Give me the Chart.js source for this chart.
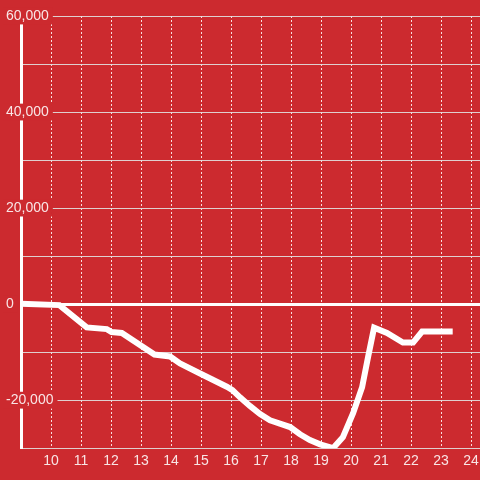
<!DOCTYPE html>
<html>
<head>
<meta charset="utf-8">
<script src="https://cdn.jsdelivr.net/npm/chart.js@4"></script>
<style>
  html, body { margin: 0; padding: 0; background: #cc2a2f; }
  #wrap { width: 480px; height: 480px; }
</style>
</head>
<body>
<div id="wrap"><canvas id="chart"></canvas></div>
<script>
// hour of day (x) and running total (y)
var hours = [9, 10.28, 11.19, 11.86, 12.02, 12.36, 13.45, 13.97, 14.3, 14.97, 15.86, 16.05, 16.3, 16.63,
    16.97, 17.3, 17.63, 17.97, 18.3, 18.63, 18.97, 19.4, 19.73, 20.07, 20.37, 20.57, 20.77,
    21.2, 21.73, 22.07, 22.37, 23.39];
var totals = [100, -200, -4850, -5200, -5800, -6000, -10500, -10900, -12350, -14450, -17200, -17900, -19400, -21200,
    -22900, -24200, -24900, -25600, -27100, -28300, -29200, -30000, -27700, -22700, -17300, -11000, -4900,
    -6000, -8000, -8000, -5700, -5700];

var xMin = 9, xMax = 24.3;
var yMin = -30000, yMax = 60000;

var points = [];
for (var i = 0; i < hours.length; i++) {
    points.push({ x: hours[i], y: totals[i] });
}

var red = '#cc2a2f';
var labelColour = 'rgba(255,255,255,0.88)';

const config = {
    type: 'line',
    data: {
        datasets: [{
            data: points,
            borderColor: '#ffffff',
            borderWidth: 6,
            pointRadius: 0,
            tension: 0,
            fill: false
        }]
    },
    options: {
        animation: false,
        responsive: true,
        maintainAspectRatio: false,
        layout: { padding: { left: 6, top: 16, right: 0, bottom: 5 } },
        plugins: { legend: { display: false }, tooltip: { enabled: false } },
        scales: {
            x: {
                type: 'linear',
                min: xMin,
                max: xMax,
                afterFit: function (scale) {
                    // plot runs right to the canvas edge
                    scale.paddingLeft = 0;
                    scale.paddingRight = 0;
                },
                border: { display: false, dash: [2, 2] },
                grid: { color: 'rgba(255,255,255,0.85)', lineWidth: 1, drawTicks: false },
                ticks: {
                    stepSize: 1,
                    includeBounds: false,
                    padding: 5,
                    color: labelColour,
                    font: { family: 'Liberation Sans', size: 14 },
                    maxRotation: 0,
                    autoSkip: false,
                    callback: function (v) { return v === xMin ? '' : String(v); }
                }
            },
            y: {
                min: yMin,
                max: yMax,
                afterFit: function (scale) {
                    // labels sit over the axis line, so keep the axis narrow and let them spill into the plot
                    scale.width = 15;
                    scale._computeLabelArea = function () { return undefined; };
                },
                border: { display: true, color: '#ffffff', width: 3 },
                grid: {
                    drawTicks: false,
                    color: function (ctx) { return ctx.tick && ctx.tick.value === 0 ? '#ffffff' : 'rgba(225,225,225,0.9)'; },
                    lineWidth: function (ctx) { return ctx.tick && ctx.tick.value === 0 ? 3 : 1; }
                },
                ticks: {
                    stepSize: 10000,
                    crossAlign: 'far',
                    color: labelColour,
                    font: { family: 'Liberation Sans', size: 14 },
                    showLabelBackdrop: function (ctx) { return ctx.tick && ctx.tick.value % 20000 === 0; },
                    backdropColor: red,
                    backdropPadding: { left: 3, right: 4, top: 0, bottom: 0 },
                    callback: function (v) { return v % 20000 === 0 ? v.toLocaleString('en-US') : ''; }
                }
            }
        }
    }
};

new Chart(document.getElementById('chart'), config);
</script>
</body>
</html>
